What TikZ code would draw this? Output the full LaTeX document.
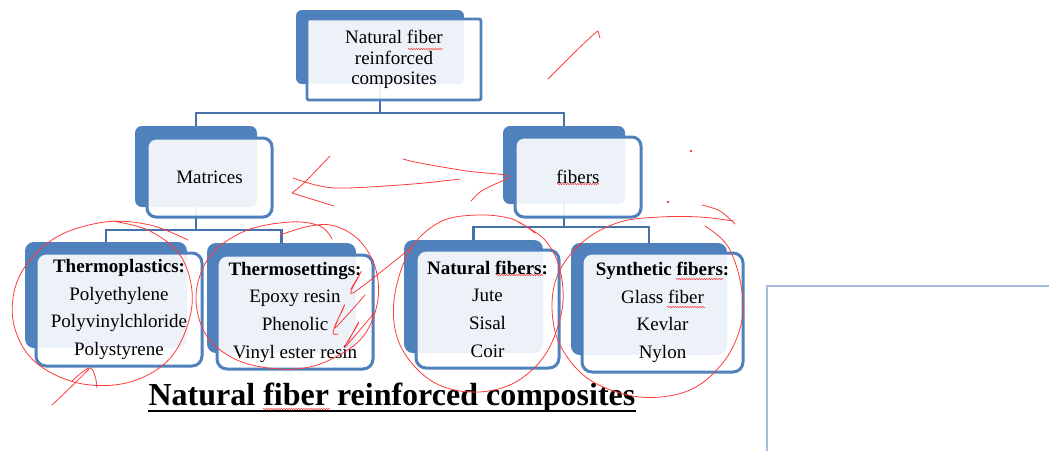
\documentclass[tikz,border=0pt]{standalone}
\usepackage{fontspec}
\setmainfont{Liberation Serif}
\usetikzlibrary{decorations.pathmorphing}
\definecolor{dblue}{HTML}{4F81BD}
\definecolor{cblue}{HTML}{4672AA}
\definecolor{inkred}{HTML}{FF3B3B}
\definecolor{framecol}{HTML}{A5BCE0}
\begin{document}
\begin{tikzpicture}[x=1pt,y=-1pt,
  backbox/.style={fill=dblue, draw=none, rounded corners=7pt, inner sep=0pt, outer sep=0pt},
  frontbox/.style={draw=dblue, line width=3pt, fill=white, fill opacity=0.9, text opacity=1,
    rounded corners=9pt, align=center, inner sep=0pt, text=black,
    font=\fontsize{19}{27.7}\selectfont},
  conn/.style={draw=cblue, line width=2.7pt},
  redink/.style={draw=inkred, line width=0.8pt, line cap=round, line join=round},
  spell/.style={draw=inkred, line width=0.5pt, decorate,
    decoration={snake, segment length=2.5pt, amplitude=0.7pt}}]
\useasboundingbox (0,0) rectangle (1049,451);
\fill[white] (0,0) rectangle (1049,451);

% back boxes
\node[backbox, minimum width=168pt, minimum height=74pt, rounded corners=6pt] (topb) at (380,47) {};
\node[backbox, minimum width=122pt, minimum height=81pt] (matb) at (196,166.5) {};
\node[backbox, minimum width=122pt, minimum height=78pt] (fibb) at (564,165) {};
\node[backbox, minimum width=162pt, minimum height=106pt, rounded corners=9pt] (tpb) at (106,295) {};
\node[backbox, minimum width=149pt, minimum height=110pt, rounded corners=9pt] (tsb) at (281.5,298) {};
\node[backbox, minimum width=139pt, minimum height=113pt, rounded corners=9pt] (nfb) at (473.5,296.5) {};
\node[backbox, minimum width=156pt, minimum height=112pt, rounded corners=9pt] (sfb) at (649,299) {};

% connectors
\draw[conn] (topb.south) -- ++(0,29) -| (matb.north);
\draw[conn] (topb.south) -- ++(0,29) -| (fibb.north);
\draw[conn] (matb.south) -- ++(0,23) -| (tpb.north);
\draw[conn] (matb.south) -- ++(0,23) -| (tsb.north);
\draw[conn] (fibb.south) -- ++(0,23) -| (nfb.north);
\draw[conn] (fibb.south) -- ++(0,23) -| (sfb.north);

% front boxes
\node[frontbox, rounded corners=2pt, line width=2.8pt, minimum width=174pt, minimum height=81pt,
  font=\fontsize{19}{20.5}\selectfont] (top) at (394,59.5) {Natural fiber\\reinforced\\composites};
\node[frontbox, minimum width=125pt, minimum height=79pt] (mat) at (209.5,177.5) {Matrices};
\node[frontbox, minimum width=126pt, minimum height=80pt] (fib) at (578,177) {fibers};
\node[frontbox, rounded corners=10pt, minimum width=166pt, minimum height=113pt] (tp) at (119,309.5)
  {\textbf{Thermoplastics:}\\Polyethylene\\Polyvinylchloride\\Polystyrene};
\node[frontbox, rounded corners=10pt, minimum width=156pt, minimum height=114pt] (ts) at (295,312)
  {\textbf{Thermosettings:}\\Epoxy resin\\Phenolic\\Vinyl ester resin};
\node[frontbox, rounded corners=10pt, minimum width=143pt, minimum height=118pt] (nf) at (487.5,309)
  {\textbf{Natural fibers:}\\Jute\\Sisal\\Coir};
\node[frontbox, rounded corners=10pt, minimum width=161pt, minimum height=119pt] (sf) at (662.5,312.5)
  {\textbf{Synthetic fibers:}\\Glass fiber\\Kevlar\\Nylon};

% title
\node[anchor=base, inner sep=0pt, font=\fontsize{32}{36}\selectfont\bfseries] (title) at (392,405)
  {Natural fiber reinforced composites};
\draw[line width=1.8pt] ([yshift=-6pt]title.base west) -- ([yshift=-6pt]title.base east);

% right frame
\draw[draw=framecol, line width=1.5pt] (1049,286) -- (767,286) -- (767,451);

% spell-check squiggles
\draw[spell] (408,49) -- (443,49);
\draw[spell] (557,184) -- (599,184);
\draw[spell] (496,275) -- (543,275);
\draw[spell] (676,279) -- (723,279);
\draw[spell] (667,307) -- (705,307);
\draw[spell] (263,409) -- (330,409);

% red hand annotations
\draw[redink] plot[smooth, tension=0.6] coordinates {(548,79) (575,52) (594,34) (598,31)} -- (600,38);
\draw[redink] plot[smooth, tension=0.5] coordinates {(330,156) (305,182) (292,193)} -- (334,206);
\draw[redink] plot[smooth, tension=0.6] coordinates {(293,178) (320,186) (347,188) (413,184) (460,179)};
\draw[redink] plot[smooth, tension=0.6] coordinates {(403,159) (420,163) (467,171) (505,175) (506,179) (493,185) (480,192) (471,201)};
\fill[inkred] (691,151) circle (1.3pt);
\fill[inkred] (668,202) circle (1.3pt);

% thermoplastics ring and arrow
\draw[redink] plot[smooth, tension=0.6] coordinates {(188,240) (150,225) (105,222) (55,238) (20,275) (13,320) (33,360) (78,383) (130,382) (172,356) (192,305) (182,258) (150,231) (112,221)};
\draw[redink] plot[smooth, tension=0.6] coordinates {(52,405) (72,386) (89,369)};
\draw[redink] plot[smooth, tension=0.6] coordinates {(72,381) (89,368) (95,376) (97,388)};

% thermosettings ring and squiggles
\draw[redink] plot[smooth, tension=0.6] coordinates {(280,235) (310,226) (335,226) (360,241) (376,270) (377,305) (360,340) (320,364) (280,369) (237,360) (206,335) (196,295) (210,256) (245,231) (290,222) (320,226) (332,239)};
\draw[redink] plot[smooth, tension=0.5] coordinates {(412,247) (353,293) (359,276) (361,272) (351,289)};
\draw[redink] plot[smooth, tension=0.5] coordinates {(365,295) (335,328) (343,309) (344,306) (333,332) (338,334)};
\draw[redink] plot[smooth, tension=0.5] coordinates {(375,312) (345,347) (357,326) (358,323) (348,342)};

% natural fibers ring
\draw[redink] plot[smooth, tension=0.6] coordinates {(535,233) (512,219) (477,215) (440,222) (410,250) (394,300) (400,345) (430,380) (470,392) (512,384) (545,355) (562,310) (560,270) (545,240) (518,222)};
% synthetic fibers ring
\draw[redink] plot[smooth, tension=0.6] coordinates {(733,221) (700,217) (660,217) (620,222) (585,240) (560,270) (552,305) (560,345) (590,380) (640,397) (690,390) (725,360) (742,320) (740,280) (727,245) (705,226)};
\draw[redink] plot[smooth, tension=0.6] coordinates {(702,205) (720,211) (735,224)};
\end{tikzpicture}
\end{document}
